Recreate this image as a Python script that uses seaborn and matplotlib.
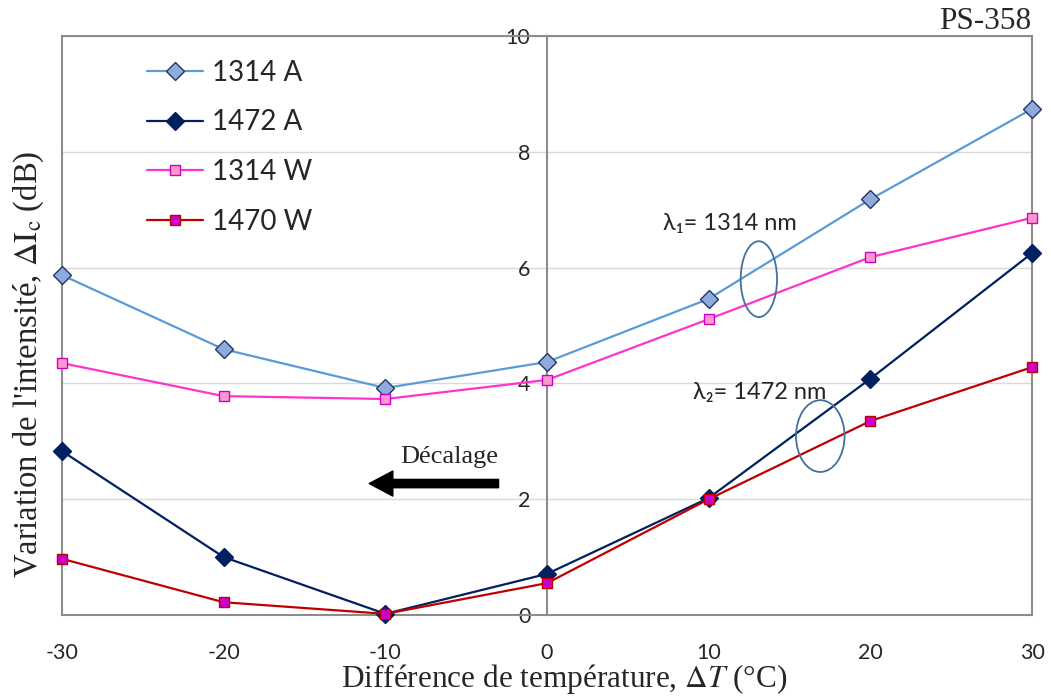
import matplotlib
matplotlib.use("Agg")
import matplotlib.pyplot as plt
import seaborn as sns
from matplotlib.patches import Ellipse

# Data
temps = [-30, -20, -10, 0, 10, 20, 30]
a_1314 = [5.87, 4.59, 3.92, 4.37, 5.46, 7.18, 8.74]
a_1472 = [2.83, 1.00, 0.02, 0.71, 2.02, 4.08, 6.25]
w_1314 = [4.35, 3.78, 3.73, 4.06, 5.11, 6.18, 6.86]
w_1470 = [0.97, 0.22, 0.02, 0.55, 2.00, 3.35, 4.28]
series_labels = ["1314 A", "1472 A", "1314 W", "1470 W"]
x_ticks = [-30, -20, -10, 0, 10, 20, 30]
y_ticks = [0, 2, 4, 6, 8, 10]

sns.set_style("white")
plt.rcParams['font.family'] = ['Lato', 'DejaVu Sans']
plt.rcParams['mathtext.fontset'] = 'stix'
plt.rcParams['axes.unicode_minus'] = False

fig = plt.figure(figsize=(10.51, 6.96), dpi=100)
ax = fig.add_axes([0.059, 0.1164, 0.923, 0.8319])

styles = [
    dict(color="#5B9BD5", marker="D", markersize=9, markerfacecolor="#8FAADC", markeredgecolor="#1F3864"),
    dict(color="#002060", marker="D", markersize=9, markerfacecolor="#002060", markeredgecolor="#002060"),
    dict(color="#FF33CC", marker="s", markersize=7.5, markerfacecolor="#FF99CC", markeredgecolor="#CC00CC"),
    dict(color="#C00000", marker="s", markersize=7.5, markerfacecolor="#CC00CC", markeredgecolor="#C00000"),
]
for vals, lab, st in zip([a_1314, a_1472, w_1314, w_1470], series_labels, styles):
    sns.lineplot(x=temps, y=vals, ax=ax, label=lab, linewidth=1.6, markeredgewidth=1.0,
                 zorder=3, clip_on=False, **st)

ax.set_xlim(-30, 30)
ax.set_ylim(0, 10)
ax.set_xticks(x_ticks)
ax.set_yticks(y_ticks)

# frame + centred y axis
spine_col = "#8C8C8C"
for s in ax.spines.values():
    s.set_color(spine_col)
    s.set_linewidth(1.5)
ax.spines['left'].set_position(('data', 0))
ax.axvline(-30, color=spine_col, lw=1.5, zorder=2.5, clip_on=False)
ax.yaxis.grid(True, color="#D9D9D9", lw=1)
ax.set_axisbelow(True)
ax.tick_params(axis='both', direction='out', length=7, width=1.2, color=spine_col,
               labelsize=15.5, pad=5)
ax.tick_params(axis='x', pad=13)

ax.set_xlabel(r"Différence de température, $\mathit{\Delta T}$ (°C)",
              family='Liberation Serif', fontsize=22.5)
ax.xaxis.set_label_coords(0.518, -0.082)
ax.set_ylabel(r"Variation de l'intensité, $\Delta\mathrm{I_c}$ (dB)",
              family='Liberation Serif', fontsize=23.5)
ax.yaxis.set_label_coords(-0.017, 0.432)

leg = ax.legend(loc='upper left', bbox_to_anchor=(0.062, 1.002), frameon=False, fontsize=20,
                handlelength=2.0, labelspacing=0.85, handletextpad=0.35)

# annotations
ax.add_patch(Ellipse((13.1, 5.80), 2.25, 1.31, fill=False, edgecolor="#41719C", lw=1.3, zorder=4))
ax.add_patch(Ellipse((16.9, 3.09), 3.0, 1.24, fill=False, edgecolor="#41719C", lw=1.3, zorder=4))
ax.text(7.2, 6.77, "λ₁= 1314 nm", fontsize=17, va='center', ha='left')
ax.text(9.0, 3.85, "λ₂= 1472 nm", fontsize=17, va='center', ha='left')
ax.text(-9.1, 2.73, "Décalage", family='Liberation Serif', fontsize=19, va='center', ha='left')
ax.annotate("", xy=(-11.0, 2.27), xytext=(-3.0, 2.27),
            arrowprops=dict(width=6, headwidth=18, headlength=17, color='black'))
fig.text(0.981, 0.948, "PS-358", family='Liberation Serif', fontsize=22.5, ha='right', va='bottom')

fig.savefig("out.png", dpi=100)
